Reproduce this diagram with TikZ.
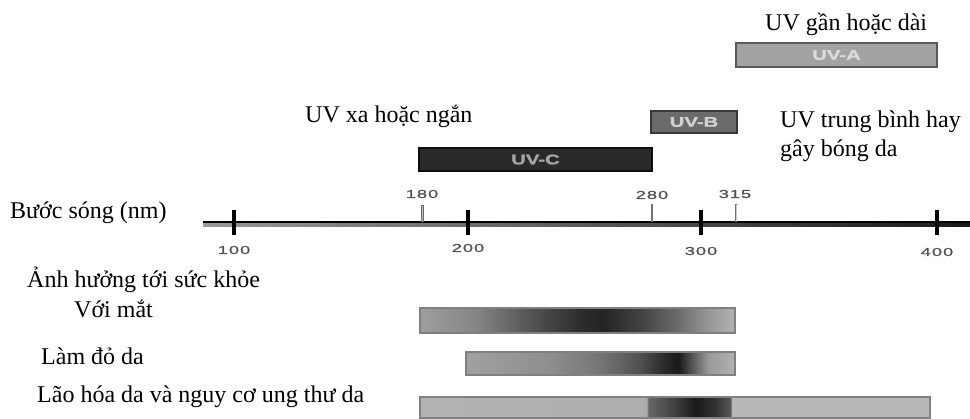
\documentclass[tikz,border=0pt]{standalone}
\usepackage{fontspec}
\setmainfont{Liberation Serif}
\newfontfamily\tickfont[FakeStretch=1.6, FakeBold=1.2, LetterSpace=8]{Liberation Sans}
\newfontfamily\bandfont[FakeStretch=1.45, FakeBold=1.5]{Liberation Sans Bold}

% grey-level profiles of the three effect bars (bar spans 25bp..75bp)
\pgfdeclarehorizontalshading{eyeshade}{100bp}{%
  color(0bp)=(black!38); color(25bp)=(black!38); color(34bp)=(black!48);
  color(42bp)=(black!66); color(50bp)=(black!82); color(54bp)=(black!86);
  color(60bp)=(black!74); color(66bp)=(black!58); color(71bp)=(black!40);
  color(75bp)=(black!30); color(100bp)=(black!30)}
\pgfdeclarehorizontalshading{rednessshade}{100bp}{%
  color(0bp)=(black!37); color(25bp)=(black!37); color(40bp)=(black!44);
  color(50bp)=(black!54); color(57bp)=(black!68); color(62bp)=(black!84);
  color(64.5bp)=(black!90); color(67.5bp)=(black!62); color(70bp)=(black!40);
  color(75bp)=(black!30); color(100bp)=(black!30)}
\pgfdeclarehorizontalshading{agingshade}{100bp}{%
  color(0bp)=(black!30); color(25bp)=(black!30); color(47.2bp)=(black!32);
  color(47.4bp)=(black!60); color(49.5bp)=(black!72); color(52bp)=(black!90);
  color(54bp)=(black!80); color(55.4bp)=(black!66); color(55.6bp)=(black!28);
  color(75bp)=(black!28); color(100bp)=(black!28)}

\tikzset{
  txt/.style={anchor=base west, inner sep=0pt, font=\fontsize{24}{28}\selectfont},
  band/.style={line width=1.5pt, inner sep=0pt,
    font=\fontsize{14}{14}\bandfont},
  effect/.style={draw=black!50, line width=1.4pt, inner sep=0pt},
  major/.style={line width=4pt, black},
  ticklab/.style={inner sep=0pt, text=black!68, font=\fontsize{11.5}{11.5}\tickfont}
}

\begin{document}
\begin{tikzpicture}[x=1pt, y=-1pt]
\useasboundingbox (0,0) rectangle (970,419);

% UV bands
\node[band, draw=black!65, fill=black!36, text=black!14, minimum width=201pt, minimum height=24pt]
  (uva) at (836.5,55) {UV-A};
\node[band, draw=black!78, fill=black!58, text=black!18, minimum width=86pt, minimum height=22pt]
  (uvb) at (694,122) {UV-B};
\node[band, draw=black!95, fill=black!84, text=black!35, minimum width=233pt, minimum height=23pt]
  (uvc) at (535.5,159.5) {UV-C};

% band captions
\node[txt] (tA) at (765,31) {UV gần hoặc dài};
\node[txt] (tC) at (305,123) {UV xa hoặc ngắn};
\node[txt] (tB1) at (780,128) {UV trung bình hay};
\node[txt] (tB2) at (780,157) {gây bóng da};

% wavelength axis
\node[txt] (axlab) at (10,219) {Bước sóng (nm)};
\shade[left color=black!40, right color=black!90] (203,222.5) rectangle (970,227);
\coordinate (a0) at (203,222);
\coordinate (a1) at (970,222);
\draw[line width=1.6pt] (a0) -- (a1);

\foreach \x/\lab/\ly in {234/100/250, 468/200/248, 701/300/251, 937/400/252}{
  \draw[major] (\x,210) -- (\x,235);
  \node[ticklab] at (\x,\ly) {\lab};
}
% band limits
\draw[black!58, line width=3pt] (422,205) -- (422,222);
\draw[black!25, line width=0.8pt] (422,206) -- (422,221);
\node[ticklab] (l180) at (422,194) {180};
\draw[black!55, line width=1.3pt] (652,204) -- (652,222);
\node[ticklab] (l280) at (652,195) {280};
\draw[black!55, line width=2.6pt] (736,204) -- (736,222);
\draw[black!20, line width=0.7pt] (736,205) -- (736,221);
\node[ticklab] (l315) at (735,194) {315};

% health effects
\node[txt] (health) at (27,288) {Ảnh hưởng tới sức khỏe};
\node[txt] (eye) at (74,318) {Với mắt};
\node[txt] (red) at (41,365) {Làm đỏ da};
\node[txt] (aging) at (37,403) {Lão hóa da và nguy cơ ung thư da};

\node[effect, shading=eyeshade, minimum width=315pt, minimum height=25pt]
  (beye) at (577.5,320.5) {};
\node[effect, shading=rednessshade, minimum width=269pt, minimum height=23pt]
  (bred) at (600.5,363.5) {};
\node[effect, shading=agingshade, minimum width=510pt, minimum height=21pt]
  (baging) at (675,407.5) {};
\end{tikzpicture}
\end{document}
